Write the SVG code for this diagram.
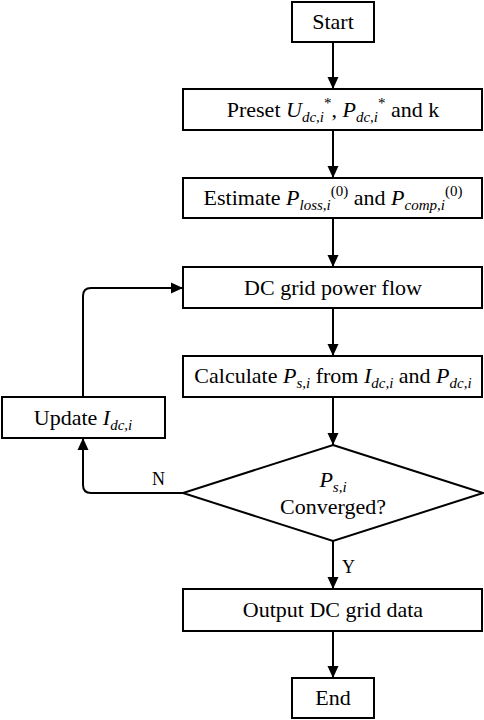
<svg xmlns="http://www.w3.org/2000/svg" width="484" height="720" viewBox="0 0 484 720">
<style>
.box{fill:#fff;stroke:#000;stroke-width:2}
text{font-family:'Liberation Serif','Times New Roman','DejaVu Serif',serif;fill:#000}
.t{font-size:22px;text-anchor:middle}
.lbl{font-size:18px}
.i{font-style:italic}
.s{font-style:italic;font-size:15px}
.sp{font-size:15px}
.c{fill:none;stroke:#000;stroke-width:2}
</style>
<defs>
<marker id="ah" viewBox="0 0 12 12" refX="12" refY="6" markerWidth="12" markerHeight="12" markerUnits="userSpaceOnUse" orient="auto">
<path d="M0,0.5 L12,6 L0,11.5 z" fill="#000"/>
</marker>
</defs>
<rect width="484" height="720" fill="#fff"/>
<g id="connectors">
<path class="c" d="M333,42 V89" marker-end="url(#ah)"/>
<path class="c" d="M333,130 V178" marker-end="url(#ah)"/>
<path class="c" d="M333,218 V267" marker-end="url(#ah)"/>
<path class="c" d="M333,308 V356" marker-end="url(#ah)"/>
<path class="c" d="M333,397 V445" marker-end="url(#ah)"/>
<path class="c" d="M333,541 V589" marker-end="url(#ah)"/>
<path class="c" d="M333,631 V678" marker-end="url(#ah)"/>
<path class="c" d="M183,493 H91 Q83,493 83,485 V438" marker-end="url(#ah)"/>
<path class="c" d="M83,397 V296 Q83,288 91,288 H183" marker-end="url(#ah)"/>
<text class="lbl" x="152" y="485">N</text>
<text class="lbl" x="342" y="573">Y</text>
</g>
<g id="start">
<rect class="box" x="292" y="2" width="82" height="40"/>
<text class="t" x="333" y="29">Start</text>
</g>
<g id="preset">
<rect class="box" x="183" y="89" width="299" height="41"/>
<text class="t" x="333" y="117">Preset <tspan class="i">U</tspan><tspan class="s" dy="5">dc,i</tspan><tspan class="sp" dy="-14">*</tspan><tspan dy="9">, </tspan><tspan class="i">P</tspan><tspan class="s" dy="5">dc,i</tspan><tspan class="sp" dy="-14">*</tspan><tspan dy="9"> and k</tspan></text>
</g>
<g id="estimate">
<rect class="box" x="183" y="178" width="299" height="40"/>
<text class="t" x="333" y="205">Estimate <tspan class="i">P</tspan><tspan class="s" dy="5">loss,i</tspan><tspan class="sp" dy="-14">(0)</tspan><tspan dy="9"> and </tspan><tspan class="i">P</tspan><tspan class="s" dy="5">comp,i</tspan><tspan class="sp" dy="-14">(0)</tspan></text>
</g>
<g id="dcflow">
<rect class="box" x="183" y="267" width="299" height="41"/>
<text class="t" x="333" y="295">DC grid power flow</text>
</g>
<g id="calculate">
<rect class="box" x="183" y="356" width="299" height="41"/>
<text class="t" x="333" y="383">Calculate <tspan class="i">P</tspan><tspan class="s" dy="5">s,i</tspan><tspan dy="-5"> from </tspan><tspan class="i">I</tspan><tspan class="s" dy="5">dc,i</tspan><tspan dy="-5"> and </tspan><tspan class="i">P</tspan><tspan class="s" dy="5">dc,i</tspan></text>
</g>
<g id="update">
<rect class="box" x="2" y="397" width="163" height="41"/>
<text class="t" x="83" y="425">Update <tspan class="i">I</tspan><tspan class="s" dy="5">dc,i</tspan></text>
</g>
<g id="converged">
<path class="box" d="M333,445 L483,493 L333,541 L183,493 Z"/>
<text class="t" x="333" y="487"><tspan class="i">P</tspan><tspan class="s" dy="5">s,i</tspan></text>
<text class="t" x="333" y="514">Converged?</text>
</g>
<g id="output">
<rect class="box" x="183" y="589" width="299" height="42"/>
<text class="t" x="333" y="617">Output DC grid data</text>
</g>
<g id="end">
<rect class="box" x="292" y="678" width="82" height="40"/>
<text class="t" x="333" y="705">End</text>
</g>
</svg>
